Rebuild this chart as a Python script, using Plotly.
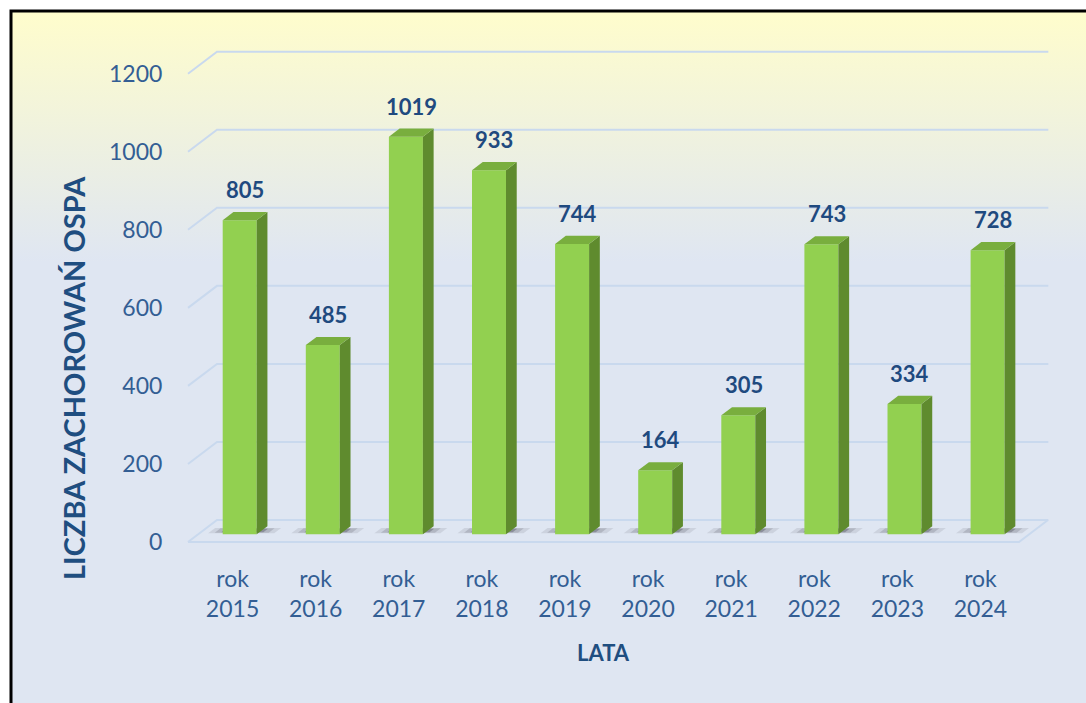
import base64
import plotly.graph_objects as go

# ---------------- data ----------------
years = ["2015", "2016", "2017", "2018", "2019", "2020", "2021", "2022", "2023", "2024"]
cases = [805, 485, 1019, 933, 744, 164, 305, 743, 334, 728]
y_ticks = [0, 200, 400, 600, 800, 1000, 1200]
x_labels = ["rok<br>" + y for y in years]
y_title = "LICZBA ZACHOROWAŃ OSPA"
x_title = "LATA"

# ---------------- geometry (pixels) ----------------
W, H = 1086, 703
FRONT_L, FRONT_R = 188, 1019      # front edge of floor
ZERO_Y, TOP_Y = 542, 73.7         # front-plane pixel of 0 and of top tick
DEPTH_X, DEPTH_Y = 29, 22         # 3D depth offset
PL, PR, PT, PB = 184, 1050, 48, 546   # plot area
BAR_W_PX = 34
F0, F1 = 0.35, 0.72               # bar depth fractions
LABEL_DX_PX = 3

n = len(cases)
ux = (FRONT_R - FRONT_L) / n
uy = (ZERO_Y - TOP_Y) / y_ticks[-1]
x_range = [-0.5 - (FRONT_L - PL) / ux, -0.5 + (PR - FRONT_L) / ux]
y_range = [-(PB - ZERO_Y) / uy, (ZERO_Y - PT) / uy]
dxu = DEPTH_X / ux
dyu = DEPTH_Y / uy
bw = BAR_W_PX / ux


def paper(px, py):
    return (px - PL) / (PR - PL), (PB - py) / (PB - PT)


def path(xs, ys):
    return "M " + " L ".join(f"{a},{b}" for a, b in zip(xs, ys)) + " Z"


FRONT = "#92D050"
SIDE = "#5F8B2E"
TOP = "#79AE3E"
GRID = "#C9D9EE"
TICK_C = "#335E94"
LAB_C = "#1F4A7F"

shapes = []

# gridlines on back wall + left wall diagonals (below traces)
for v in y_ticks:
    shapes.append(dict(type="path", xref="x", yref="y", layer="below",
                       path=f"M -0.5,{v} L {-0.5 + dxu},{v + dyu} L {x_range[1] - 0.02},{v + dyu}",
                       line=dict(color=GRID, width=2)))
# floor front edge and right edge
shapes.append(dict(type="path", xref="x", yref="y", layer="below",
                   path=f"M -0.5,0 L {n - 0.5},0 L {n - 0.5 + dxu},{dyu}",
                   line=dict(color=GRID, width=2)))

# shadows on floor
for i, v in enumerate(cases):
    xl = i - bw / 2
    for ext, op, a, b in [(16, 0.10, 0.40, 0.64), (10, 0.16, 0.42, 0.62), (4, 0.28, 0.44, 0.60)]:
        e = ext / ux
        sx = [xl - e + a * dxu, xl + bw + e + a * dxu, xl + bw + e + b * dxu, xl - e + b * dxu]
        sy = [a * dyu, a * dyu, b * dyu, b * dyu]
        shapes.append(dict(type="path", xref="x", yref="y", layer="below", path=path(sx, sy),
                           fillcolor=f"rgba(40,40,50,{op})", line=dict(width=0)))

fig = go.Figure()

# front faces
fig.add_trace(go.Bar(x=[i + F0 * dxu for i in range(n)], y=cases, base=F0 * dyu, width=bw,
                     marker=dict(color=FRONT, line=dict(width=0)), hoverinfo="skip",
                     showlegend=False))

ddx = (F1 - F0) * dxu
ddy = (F1 - F0) * dyu
for i, v in enumerate(cases):
    xl = i - bw / 2 + F0 * dxu
    xr = xl + bw
    b0 = F0 * dyu
    top = b0 + v
    # side face
    fig.add_trace(go.Scatter(x=[xr, xr + ddx, xr + ddx, xr, xr],
                             y=[b0, b0 + ddy, top + ddy, top, b0],
                             mode="lines", fill="toself", fillcolor=SIDE, line=dict(width=0),
                             hoverinfo="skip", showlegend=False))
    # top face
    fig.add_trace(go.Scatter(x=[xl, xr, xr + ddx, xl + ddx, xl],
                             y=[top, top, top + ddy, top + ddy, top],
                             mode="lines", fill="toself", fillcolor=TOP, line=dict(width=0),
                             hoverinfo="skip", showlegend=False))

annotations = []
for i, v in enumerate(cases):
    annotations.append(dict(x=i + (F0 + F1) / 2 * dxu, y=v + F1 * dyu, xref="x", yref="y",
                            text=f"<b>{v}</b>", showarrow=False, yanchor="bottom",
                            xanchor="center", yshift=7,
                            font=dict(family="Lato", size=22, color=LAB_C)))

tx, ty = paper(73, 378)
annotations.append(dict(x=tx, y=ty, xref="paper", yref="paper", text=f"<b>{y_title}</b>",
                        textangle=-90, showarrow=False, xanchor="center", yanchor="middle",
                        font=dict(family="Lato", size=29, color="#1F4E80")))
lx, ly = paper(603, 652)
annotations.append(dict(x=lx, y=ly, xref="paper", yref="paper", text=f"<b>{x_title}</b>",
                        showarrow=False, xanchor="center", yanchor="middle",
                        font=dict(family="Lato", size=22, color="#1F4E80")))

# background gradient via svg image
svg = ('<svg xmlns="http://www.w3.org/2000/svg" width="100" height="100" preserveAspectRatio="none">'
       '<defs><linearGradient id="g" x1="0" y1="0" x2="0" y2="1">'
       '<stop offset="0" stop-color="#FFFDCC"/>'
       '<stop offset="0.36" stop-color="#DFE6F2"/>'
       '<stop offset="1" stop-color="#DFE6F2"/>'
       '</linearGradient></defs><rect width="100" height="100" fill="url(#g)"/></svg>')
src = "data:image/svg+xml;base64," + base64.b64encode(svg.encode()).decode()
bx0, by0 = paper(11, 11)
bx1, by1 = paper(W + 5, H + 5)

shapes.append(dict(type="rect", xref="paper", yref="paper", x0=bx0, y0=by0, x1=bx1, y1=by1,
                   line=dict(color="black", width=3), fillcolor="rgba(0,0,0,0)", layer="above"))

fig.update_layout(
    width=W, height=H,
    margin=dict(l=PL, r=W - PR, t=PT, b=H - PB, pad=0),
    paper_bgcolor="white", plot_bgcolor="rgba(0,0,0,0)",
    barmode="overlay",
    images=[dict(source=src, xref="paper", yref="paper", x=bx0, y=by0,
                 sizex=bx1 - bx0, sizey=by0 - by1, xanchor="left", yanchor="top",
                 sizing="stretch", layer="below")],
    shapes=shapes,
    annotations=annotations,
    xaxis=dict(range=x_range, tickvals=[i + LABEL_DX_PX / ux for i in range(n)],
               ticktext=x_labels, showgrid=False, zeroline=False, showline=False,
               ticks="outside", ticklen=12, tickcolor="rgba(0,0,0,0)",
               tickfont=dict(family="Lato", size=23, color=TICK_C)),
    yaxis=dict(range=y_range, tickvals=y_ticks, showgrid=False, zeroline=False,
               showline=False, ticks="outside", ticklen=16, tickcolor="rgba(0,0,0,0)",
               tickfont=dict(family="Lato", size=23, color=TICK_C)),
    hovermode=False,
)

fig.write_html("out.html", config={"displayModeBar": False},
               post_script="document.body.style.margin='0';")
